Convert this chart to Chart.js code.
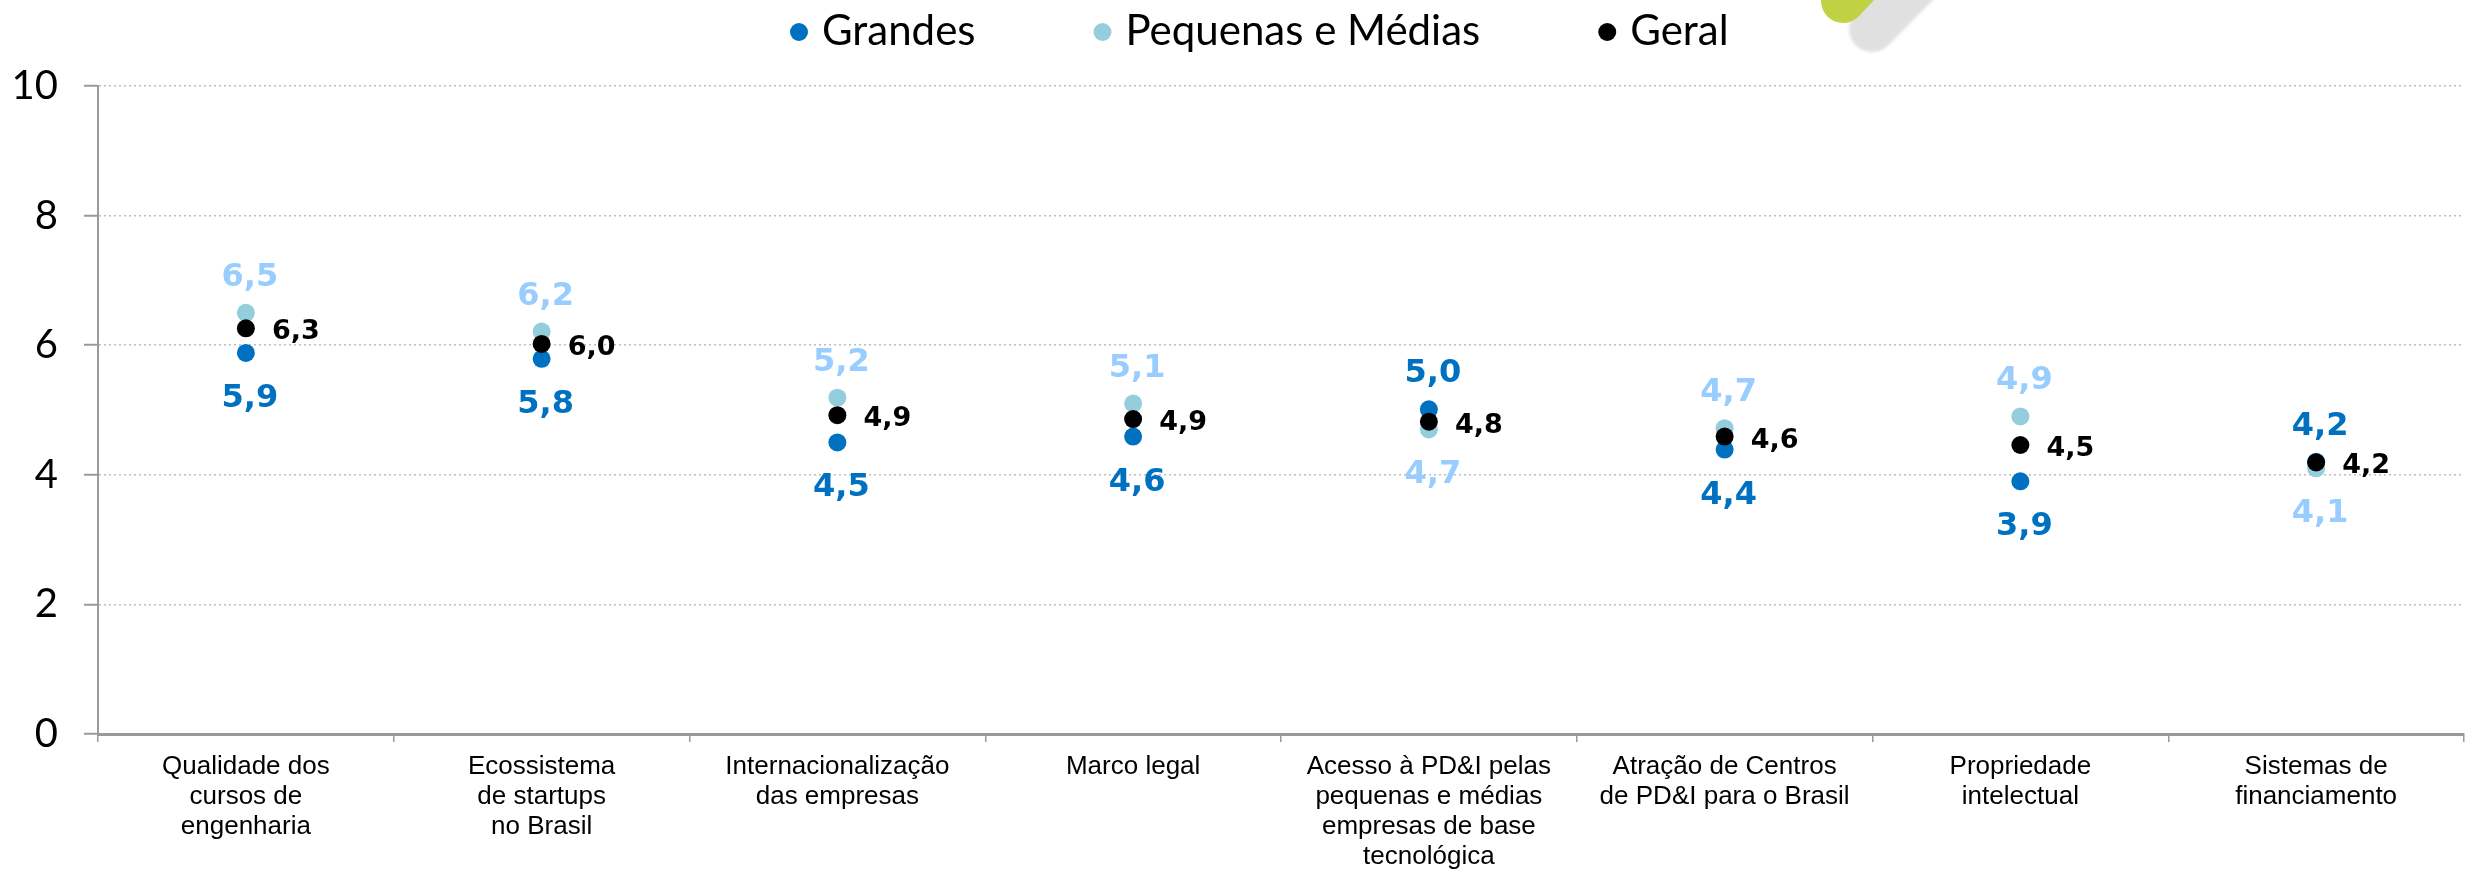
<!DOCTYPE html>
<html>
  <head>
    <meta charset="utf-8">
    <style>
      html, body { margin: 0; padding: 0; background: #ffffff; }
    </style>
  </head>
  <body>
    <canvas id="avaliacao" width="2473" height="869"></canvas>

    <script src="https://cdn.jsdelivr.net/npm/chart.js"></script>
    <script>
      // categorias (quebradas em linhas como no original)
      const categorias = [
        ['Qualidade dos', 'cursos de', 'engenharia'],
        ['Ecossistema', 'de startups', 'no Brasil'],
        ['Internacionalização', 'das empresas'],
        ['Marco legal'],
        ['Acesso à PD&I pelas', 'pequenas e médias', 'empresas de base', 'tecnológica'],
        ['Atração de Centros', 'de PD&I para o Brasil'],
        ['Propriedade', 'intelectual'],
        ['Sistemas de', 'financiamento']
      ];

      const grandes   = [5.88, 5.79, 4.50, 4.59, 5.01, 4.39, 3.90, 4.20];
      const pequenas  = [6.50, 6.21, 5.19, 5.10, 4.70, 4.72, 4.90, 4.10];
      const geral     = [6.26, 6.02, 4.92, 4.86, 4.82, 4.59, 4.46, 4.19];

      const yTicks = [0, 2, 4, 6, 8, 10];

      const legendas = ['Grandes', 'Pequenas e Médias', 'Geral'];

      const fmt = v => (Math.round(v * 10) / 10).toFixed(1).replace('.', ',');

      // logo cortado no topo (decoração)
      const logoPlugin = {
        id: 'logo',
        beforeDraw(chart) {
          const ctx = chart.ctx;
          ctx.save();
          ctx.lineCap = 'round';
          ctx.lineWidth = 46;
          ctx.strokeStyle = '#e0e0e0';
          ctx.filter = 'blur(1.5px)';
          ctx.beginPath();
          ctx.moveTo(1872, 29);
          ctx.lineTo(1940, -40);
          ctx.stroke();
          ctx.filter = 'none';
          ctx.lineWidth = 44;
          ctx.strokeStyle = '#c0d243';
          ctx.beginPath();
          ctx.moveTo(1843, 1);
          ctx.lineTo(1900, -60);
          ctx.stroke();
          ctx.restore();
        }
      };

      // legenda desenhada à mão (espaçamento do original)
      const legendPlugin = {
        id: 'legendaManual',
        afterDraw(chart) {
          const ctx = chart.ctx;
          ctx.save();
          ctx.font = '42px Lato';
          ctx.textBaseline = 'alphabetic';
          let x = 799;
          chart.data.datasets.forEach((ds, i) => {
            ctx.fillStyle = ds.pointBackgroundColor;
            ctx.beginPath();
            ctx.arc(x, 32, 9, 0, Math.PI * 2);
            ctx.fill();
            ctx.fillStyle = '#000';
            ctx.fillText(ds.label, x + 23, 45);
            x += 23 + ctx.measureText(ds.label).width + 127;
          });
          ctx.restore();
        }
      };

      // rótulos de valor
      const rotulosPlugin = {
        id: 'rotulos',
        afterDatasetsDraw(chart) {
          const ctx = chart.ctx;
          const mg = chart.getDatasetMeta(0).data;
          const mp = chart.getDatasetMeta(1).data;
          const mt = chart.getDatasetMeta(2).data;
          ctx.save();
          ctx.textAlign = 'center';
          ctx.textBaseline = 'alphabetic';
          ctx.font = 'bold 32px "DejaVu Sans"';
          categorias.forEach((c, i) => {
            const gAcima = grandes[i] >= pequenas[i];
            const g = mg[i], p = mp[i];
            ctx.fillStyle = '#0070c0';
            ctx.fillText(fmt(grandes[i]), g.x + 4, gAcima ? g.y - 27 : g.y + 54);
            ctx.fillStyle = '#99ccff';
            ctx.fillText(fmt(pequenas[i]), p.x + 4, gAcima ? p.y + 54 : p.y - 27);
          });
          ctx.textAlign = 'left';
          ctx.font = 'bold 27px "DejaVu Sans"';
          ctx.fillStyle = '#000';
          mt.forEach((pt, i) => {
            ctx.fillText(fmt(geral[i]), pt.x + 26, pt.y + 11);
          });
          ctx.restore();
        }
      };

      const ctx = document.getElementById('avaliacao').getContext('2d');
      new Chart(ctx, {
        type: 'line',
        data: {
          labels: categorias,
          datasets: [
            {
              label: legendas[0],
              data: grandes,
              showLine: false,
              pointRadius: 9,
              pointHoverRadius: 9,
              pointBackgroundColor: '#0070c0',
              pointBorderWidth: 0,
              order: 3
            },
            {
              label: legendas[1],
              data: pequenas,
              showLine: false,
              pointRadius: 9,
              pointHoverRadius: 9,
              pointBackgroundColor: '#94cddc',
              pointBorderWidth: 0,
              order: 2
            },
            {
              label: legendas[2],
              data: geral,
              showLine: false,
              pointRadius: 9,
              pointHoverRadius: 9,
              pointBackgroundColor: '#000000',
              pointBorderWidth: 0,
              order: 1
            }
          ]
        },
        options: {
          responsive: false,
          animation: false,
          devicePixelRatio: 1,
          layout: { padding: { top: 86, left: 0, right: 0, bottom: 0 } },
          plugins: {
            legend: { display: false },
            tooltip: { enabled: false }
          },
          scales: {
            x: {
              offset: true,
              grid: {
                offset: true,
                drawOnChartArea: false,
                color: '#9a9a9a',
                tickLength: 8,
                lineWidth: 1.5
              },
              border: { color: '#9a9a9a', width: 3 },
              ticks: {
                color: '#000',
                padding: 10,
                maxRotation: 0,
                autoSkip: false,
                font: { family: '"Liberation Sans"', size: 26, lineHeight: 1.15 }
              },
              afterFit: s => { s.height = 135; }
            },
            y: {
              min: 0,
              max: 10,
              afterBuildTicks: s => { s.ticks = yTicks.map(v => ({ value: v })); },
              grid: {
                color: c => c.tick && c.tick.value === 0 ? 'rgba(0,0,0,0)' : '#bdbdbd',
                lineWidth: 1.5,
                tickColor: '#9a9a9a',
                tickLength: 14,
                tickWidth: 2,
                tickBorderDash: []
              },
              border: { color: '#9a9a9a', width: 2, dash: [2, 3] },
              ticks: {
                color: '#000',
                padding: 26,
                font: { family: 'Lato', size: 40 }
              },
              afterFit: s => { s.width = 98; }
            }
          }
        },
        plugins: [logoPlugin, rotulosPlugin, legendPlugin]
      });
    </script>
  </body>
</html>
